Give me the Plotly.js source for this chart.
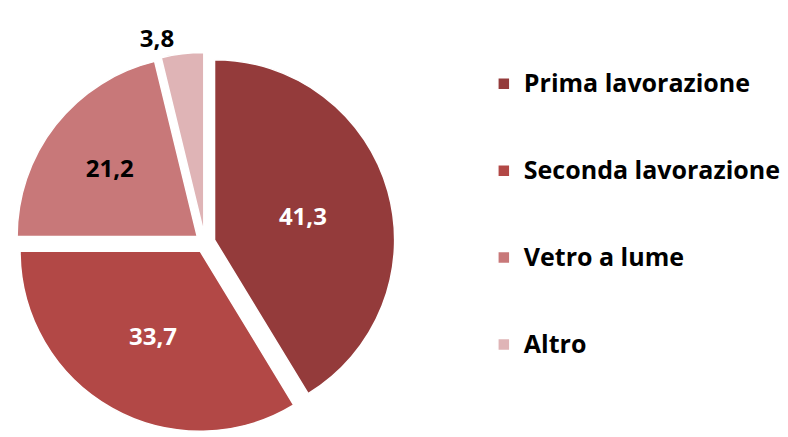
<!DOCTYPE html>
<html>
<head>
<meta charset="utf-8">
<script src="https://cdn.plot.ly/plotly-3.0.1.min.js"></script>
<style>html,body{margin:0;padding:0;background:#fff;}#chart{width:788px;height:437px;}</style>
</head>
<body>
<div id="chart"></div>
<script>
const categories = ["Prima lavorazione", "Seconda lavorazione", "Vetro a lume", "Altro"];
const values = [41.3, 33.7, 21.2, 3.8];
const colors = ["#943B3B", "#B24846", "#C87879", "#DFB4B6"];
const textColors = ["#FFFFFF", "#FFFFFF", "#000000", "#000000"];
const textPositions = ["inside", "inside", "inside", "outside"];

// larger visible text, blank lines pad the legend items to the reference spacing
const legendLabels = categories.map(c =>
  '<span style="font-size:25px">' + c + '</span><br>\u00a0<br>\u00a0');

const trace = {
  type: "pie",
  labels: legendLabels,
  values: values,
  sort: false,
  direction: "clockwise",
  rotation: 0,
  pull: [0.055, 0.055, 0.055, 0.055],
  marker: { colors: colors, line: { color: "#FFFFFF", width: 1.5 } },
  texttemplate: "%{value:.1f}",
  textposition: textPositions,
  insidetextorientation: "horizontal",
  insidetextfont: { color: textColors, size: 24, family: "Open Sans", weight: "bold" },
  outsidetextfont: { color: "#000000", size: 24, family: "Open Sans", weight: "bold" },
  hoverinfo: "value",
  domain: { x: [15 / 788, 395 / 788], y: [2 / 437, 1 - 50 / 437] }
};

const layout = {
  width: 788,
  height: 437,
  margin: { l: 0, r: 0, t: 0, b: 0 },
  paper_bgcolor: "#FFFFFF",
  separators: ",.",
  showlegend: true,
  legend: {
    x: 0.614, xanchor: "left",
    y: 0.855, yanchor: "top",
    valign: "top",
    font: { family: "Open Sans", size: 21.5, color: "#000000", weight: "bold" },
    itemwidth: 30
  }
};

Plotly.newPlot("chart", [trace], layout, { displayModeBar: false });
</script>
</body>
</html>
